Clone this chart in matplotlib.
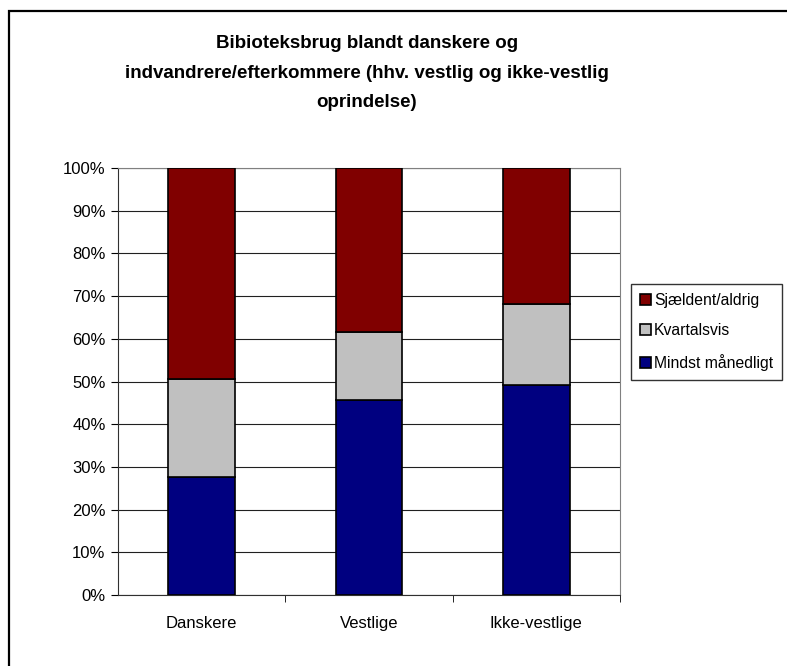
import numpy as np
import matplotlib.pyplot as plt
from matplotlib.patches import Rectangle
from matplotlib.ticker import FuncFormatter

plt.rcParams['font.family'] = ['Liberation Sans', 'DejaVu Sans']

categories = ['Danskere', 'Vestlige', 'Ikke-vestlige']
maanedligt = [27.7, 45.6, 49.1]
kvartalsvis = [23.0, 16.1, 19.0]
sjaeldent = [49.3, 38.3, 31.9]

fig = plt.figure(figsize=(7.87, 6.66), dpi=100)
W, H = 787, 666

# outer chart border (runs off the right and bottom edge)
fig.patches.append(Rectangle((9 / W, -0.1), 1.0, 1 - 11 / H + 0.1, transform=fig.transFigure,
                             fill=False, edgecolor='black', linewidth=1.6))

ax = fig.add_axes([118 / W, 1 - 595 / H, 502 / W, 427 / H])
x = np.arange(len(categories))
w = 0.4
b1 = ax.bar(x, maanedligt, w, color='#000080', edgecolor='black', linewidth=1.2,
            label='Mindst månedligt', zorder=3)
b2 = ax.bar(x, kvartalsvis, w, bottom=maanedligt, color='#C0C0C0', edgecolor='black',
            linewidth=1.2, label='Kvartalsvis', zorder=3)
bottom3 = np.array(maanedligt) + np.array(kvartalsvis)
b3 = ax.bar(x, sjaeldent, w, bottom=bottom3, color='#800000', edgecolor='black',
            linewidth=1.2, label='Sjældent/aldrig', zorder=3)

ax.set_xlim(-0.5, 2.5)
ax.set_ylim(0, 100)
ax.set_yticks(np.arange(0, 101, 10))
ax.yaxis.set_major_formatter(FuncFormatter(lambda v, p: f'{int(v)}%'))
ax.grid(axis='y', color='#202020', linewidth=0.8, zorder=0)
ax.set_xticks(x)
ax.set_xticklabels(categories)
ax.set_xticks([0.5, 1.5, 2.5], minor=True)
ax.tick_params(axis='x', which='major', length=0, pad=15, labelsize=12)
ax.tick_params(axis='x', which='minor', length=5, direction='out')
ax.tick_params(axis='y', length=5, direction='out', labelsize=12, pad=4)
ax.spines['top'].set_color('#808080')
ax.spines['right'].set_color('#808080')
ax.spines['left'].set_color('#303030')
ax.spines['bottom'].set_color('#303030')

fig.text(367 / W, 1 - 73 / H,
         'Bibioteksbrug blandt danskere og\nindvandrere/efterkommere (hhv. vestlig og ikke-vestlig\noprindelse)',
         ha='center', va='center', fontsize=13.5, fontweight='bold', linespacing=1.95)

leg = ax.legend(handles=[b3, b2, b1], loc='upper left',
                bbox_to_anchor=(631 / W, 1 - 284 / H), bbox_transform=fig.transFigure,
                frameon=True, fancybox=False, edgecolor='black', fontsize=11.3,
                handlelength=0.7, handleheight=0.7, handletextpad=0.2,
                labelspacing=1.0, borderpad=0.55, borderaxespad=0)
leg.get_frame().set_linewidth(1.0)

fig.savefig('out.png', dpi=100)
